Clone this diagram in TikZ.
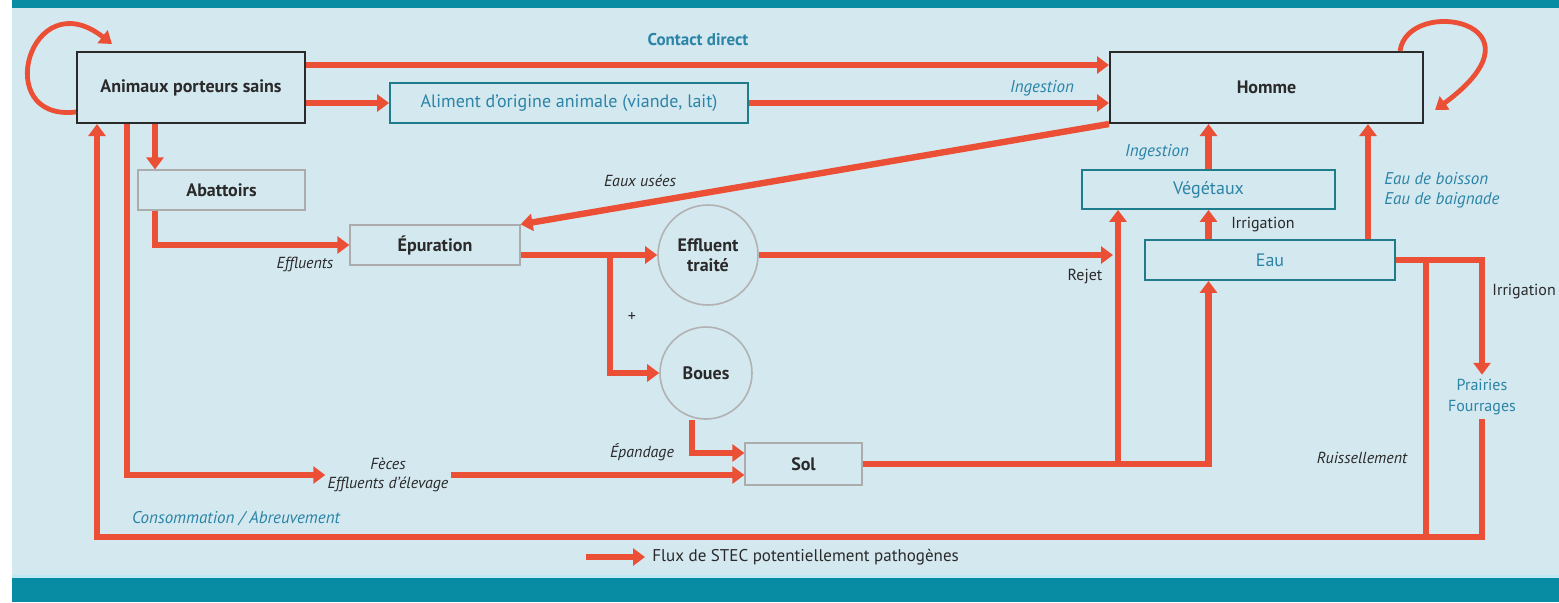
\documentclass[tikz,border=0pt]{standalone}
\usepackage{fontspec}
\setmainfont{PT Sans}
\usetikzlibrary{arrows.meta, calc, positioning}

\definecolor{fondbleu}{HTML}{D4E8F0}
\definecolor{bandeau}{HTML}{078CA4}
\definecolor{liseret}{HTML}{BDEAF3}
\definecolor{fluxrouge}{HTML}{EB5036}
\definecolor{bleutexte}{HTML}{2B84A6}
\definecolor{bordsarcelle}{HTML}{1F7C8A}
\definecolor{textefonce}{HTML}{2A2A2A}

\begin{document}
\begin{tikzpicture}[x=0.5pt, y=-0.5pt]
\tikzset{
  flux/.style={draw=fluxrouge, line width=3.2pt, -{Triangle[length=6pt,width=8.5pt]}},
  fluxtrait/.style={draw=fluxrouge, line width=3.2pt},
  boucle/.style={draw=fluxrouge, line width=2.4pt, -{Triangle[length=6pt,width=8pt]}},
  acteur/.style={draw=textefonce, line width=1pt, rectangle, inner sep=0pt, text=textefonce, font=\bfseries\fontsize{9}{11}\selectfont},
  etape/.style={draw=gray!65, line width=0.6pt, rectangle, inner sep=0pt, text=textefonce, font=\bfseries\fontsize{9}{11}\selectfont},
  milieu/.style={draw=bordsarcelle, line width=0.9pt, rectangle, inner sep=0pt, text=bleutexte, font=\fontsize{9}{11}\selectfont},
  rond/.style={draw=gray!60, line width=0.8pt, circle, inner sep=0pt, align=center, text=textefonce, font=\bfseries\fontsize{9}{10}\selectfont},
  etiq/.style={text=textefonce, inner sep=1pt, font=\itshape\fontsize{8}{9.5}\selectfont},
  etiqbleu/.style={text=bleutexte, inner sep=1pt, font=\itshape\fontsize{8.5}{10}\selectfont},
}
\useasboundingbox (0,0) rectangle (1559,602);
\fill[white] (0,0) rectangle (1559,602);
\fill[fondbleu] (12,8) rectangle (1559,575);
\fill[bandeau] (12,0) rectangle (1559,8);
\fill[liseret] (12,575) rectangle (1559,578);
\fill[bandeau] (12,578) rectangle (1559,602);

\node[acteur, minimum width=114pt, minimum height=35.5pt] (anim) at (191,87.5) {Animaux porteurs sains};
\node[acteur, minimum width=156.5pt, minimum height=35.5pt] (homme) at (1266.5,87.5) {Homme};
\node[milieu, minimum width=179pt, minimum height=20pt] (aliment) at (569,103) {Aliment d'origine animale (viande, lait)};
\node[etape, minimum width=83.5pt, minimum height=20pt] (abat) at (221.5,190) {Abattoirs};
\node[etape, minimum width=85pt, minimum height=20pt] (epur) at (435,245) {Épuration};
\node[rond, minimum size=50pt] (efftr) at (708,255) {Effluent\\traité};
\node[rond, minimum size=46pt] (boues) at (706,373) {Boues};
\node[etape, minimum width=58.5pt, minimum height=21pt] (sol) at (803.5,464) {Sol};
\node[milieu, minimum width=126.5pt, minimum height=19.5pt] (veget) at (1208.5,189.5) {Végétaux};
\node[milieu, minimum width=125pt, minimum height=20pt] (eau) at (1270,260) {Eau};
\node[etiq, align=center] (feces) at (388,475) {Fèces\\Effluents d'élevage};
\node[text=bleutexte, align=center, inner sep=2pt, font=\fontsize{8}{10.5}\selectfont] (prairies) at (1482,397) {Prairies\\Fourrages};

\coordinate (animloop) at (112,44);
\coordinate (hommeloop) at (1435,110);
\coordinate (split) at (610,255);
\coordinate (rejet) at (1113,255);
\coordinate (conso) at (97,537);
\coordinate (ruis) at (1426,537);

\draw[boucle] (anim.west |- 0,112) .. controls (-10,122) and (30,-20) .. (animloop);
\draw[boucle] (homme.north -| 1400,0) .. controls (1408,-5) and (1555,22) .. (hommeloop);

\draw[flux] (anim.east |- 0,65) -- (homme.west |- 0,65);
\draw[flux] (anim.east |- aliment) -- (aliment.west);
\draw[flux] (aliment.east) -- (homme.west |- aliment);
\draw[flux] (homme.south west) -- (epur.north east);
\draw[flux] (anim.south -| 155,0) -- (abat.north -| 155,0);
\draw[flux] (abat.south -| 155,0) |- (epur.west);
\draw[flux] (epur.east |- efftr) -- (efftr.west);
\draw[flux] (split) |- (boues.west);
\draw[flux] (boues.south -| 692,0) |- (sol.west |- 0,453);
\draw[flux] (anim.south -| 127,0) |- (feces.west);
\draw[flux] (feces.east) -- (sol.west |- feces.east);
\draw[flux] (efftr.east) -- (rejet);
\draw[flux] (sol.east) -| (eau.south -| veget);
\draw[flux] (sol.east -| 1118,0) -- (veget.south -| 1118,0);
\draw[flux] (eau.north -| veget) -- (veget.south);
\draw[flux] (veget.north) -- (homme.south -| veget.north);
\draw[flux] (eau.north -| 1368,0) -- (homme.south -| 1368,0);
\draw[flux] (eau.east) -| (prairies.north);
\draw[fluxtrait] (eau.east -| ruis) -- (ruis);
\draw[flux] (prairies.south) |- (conso) -- (anim.south -| conso);

\node[text=bleutexte, font=\bfseries\fontsize{8.5}{10}\selectfont] (lcontact) at (698,40) {Contact direct};
\node[etiqbleu] (lingest1) at (1042,88) {Ingestion};
\node[etiq] (leaux) at (640,181) {Eaux usées};
\node[etiq] (leffl) at (305,264) {Effluents};
\node[text=textefonce, font=\fontsize{8}{9}\selectfont] (lplus) at (632,317) {+};
\node[etiq] (lepand) at (642,452) {Épandage};
\node[etiq, font=\fontsize{8}{9.5}\selectfont] (lrejet) at (1085,277) {Rejet};
\node[etiqbleu] (lingest2) at (1157,152) {Ingestion};
\node[etiq, font=\fontsize{8}{9.5}\selectfont] (lirrig1) at (1263,225) {Irrigation};
\node[etiqbleu, align=left, anchor=west] (lboisson) at (1382,190) {Eau de boisson\\Eau de baignade};
\node[etiq, font=\fontsize{8}{9.5}\selectfont, anchor=west] (lirrig2) at (1490,292) {Irrigation};
\node[etiq] (lruis) at (1362,458) {Ruissellement};
\node[etiqbleu] (lconso) at (236,519) {Consommation / Abreuvement};

\node[text=textefonce, anchor=west, inner sep=0pt, font=\fontsize{8.5}{10}\selectfont] (legende) at (652,557) {Flux de STEC potentiellement pathogènes};
\draw[flux] ([xshift=-33pt]legende.west) -- ([xshift=-3.5pt]legende.west);
\end{tikzpicture}
\end{document}
